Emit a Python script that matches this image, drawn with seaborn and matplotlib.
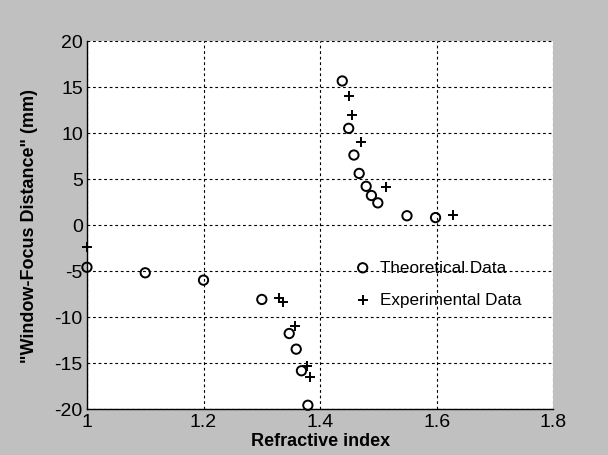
import matplotlib
matplotlib.use("Agg")
import matplotlib.pyplot as plt
import seaborn as sns
import pandas as pd

theo_x = [1.00, 1.10, 1.20, 1.30, 1.347, 1.359, 1.368, 1.379, 1.438, 1.449, 1.458, 1.467, 1.479, 1.488, 1.499, 1.549, 1.598]
theo_y = [-4.6, -5.2, -6.0, -8.1, -11.8, -13.5, -15.85, -19.6, 15.65, 10.5, 7.6, 5.6, 4.2, 3.2, 2.4, 1.0, 0.8]
exp_x = [1.00, 1.330, 1.337, 1.357, 1.378, 1.383, 1.4496, 1.4555, 1.4707, 1.513, 1.628]
exp_y = [-2.4, -7.9, -8.4, -11.0, -15.3, -16.5, 14.0, 12.0, 9.0, 4.1, 1.05]
x_ticks = [1, 1.2, 1.4, 1.6, 1.8]
y_ticks = [-20, -15, -10, -5, 0, 5, 10, 15, 20]

sns.set_theme(style="white")
plt.rcParams['font.family'] = ['Liberation Sans', 'DejaVu Sans']
plt.rcParams.update({"text.color": "black", "axes.labelcolor": "black",
                     "xtick.color": "black", "ytick.color": "black"})

theo = pd.DataFrame({"n": theo_x, "d": theo_y})
expd = pd.DataFrame({"n": exp_x, "d": exp_y})

fig = plt.figure(figsize=(6.08, 4.56), dpi=100, facecolor="#c0c0c0")
ax = fig.add_axes([0.143, 0.101, 0.767, 0.807])
ax.set_facecolor("white")

sns.scatterplot(data=theo, x="n", y="d", marker="o", s=45, facecolors="none",
                edgecolor="black", linewidth=1.4, label="Theoretical Data", ax=ax)
sns.scatterplot(data=expd, x="n", y="d", marker="+", s=60, color="black",
                linewidth=1.4, label="Experimental Data", ax=ax)
for c in ax.collections:
    c.set_clip_on(False)
    c.set_zorder(5)

ax.set_xlim(1, 1.8)
ax.set_ylim(-20, 20)
ax.set_xticks(x_ticks)
ax.set_xticklabels([f"{v:g}" for v in x_ticks])
ax.set_yticks(y_ticks)
ax.set_yticklabels([f"{v:g}" for v in y_ticks])
ax.tick_params(axis="both", labelsize=14, direction="in", length=4, width=0.8,
               colors="black", labelcolor="black", pad=3)
ax.grid(True, color="black", linestyle=(0, (2.5, 2.5)), linewidth=0.8)
for side in ["top", "right"]:
    ax.spines[side].set_visible(False)
for side in ["left", "bottom"]:
    ax.spines[side].set_color("black")
    ax.spines[side].set_linewidth(1.0)

ax.set_xlabel("Refractive index", fontsize=13, fontweight="bold", color="black")
ax.xaxis.set_label_coords(0.5, -0.062)
ax.set_ylabel('"Window-Focus Distance" (mm)', fontsize=13, fontweight="bold", color="black")
ax.yaxis.set_label_coords(-0.105, 0.5)

leg = ax.legend(loc="center left", bbox_to_anchor=(0.54, 0.34), frameon=False,
                fontsize=12.3, handletextpad=0.5, labelspacing=1.0, handlelength=1.0)
for t in leg.get_texts():
    t.set_color("black")

fig.savefig("out.png", dpi=100, facecolor=fig.get_facecolor())
